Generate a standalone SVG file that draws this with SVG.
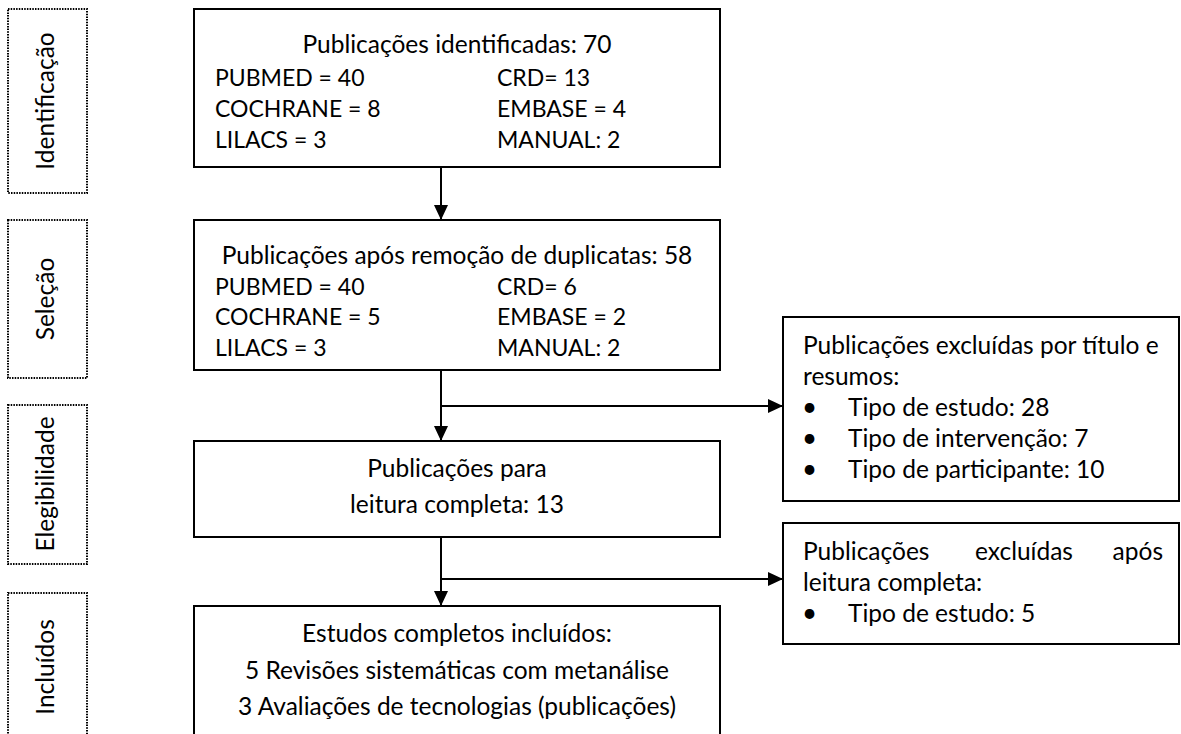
<svg xmlns="http://www.w3.org/2000/svg" width="1181" height="734" viewBox="0 0 1181 734">
  <style>
    text { font-family: "Lato", "Open Sans", "Liberation Sans", sans-serif; font-size: 24.5px; fill: #000; }
    .caps { font-size: 23px; }
    .c { text-anchor: middle; }
    .box { fill: #fff; stroke: #000; stroke-width: 2; }
    .stage { fill: #fff; stroke: #000; stroke-width: 2; stroke-dasharray: 1.5 1.2; }
    .conn { fill: none; stroke: #000; stroke-width: 2; }
    .bul { font-size: 26px; }
  </style>
  <defs>
    <marker id="ah" viewBox="0 0 15 14" refX="15" refY="7" markerWidth="15" markerHeight="14" orient="auto" markerUnits="userSpaceOnUse">
      <path d="M0,0 L15,7 L0,14 z" fill="#000"/>
    </marker>
  </defs>
  <rect width="1181" height="734" fill="#fff"/>

  <!-- stage labels -->
  <g id="stage-identificacao">
    <rect class="stage" x="8" y="9" width="79" height="184"/>
    <text class="c" x="54" y="101" transform="rotate(-90 54 101)">Identificação</text>
  </g>
  <g id="stage-selecao">
    <rect class="stage" x="8" y="220" width="79" height="158"/>
    <text class="c" x="54" y="299" transform="rotate(-90 54 299)">Seleção</text>
  </g>
  <g id="stage-elegibilidade">
    <rect class="stage" x="8" y="405" width="79" height="159"/>
    <text class="c" x="54" y="484" transform="rotate(-90 54 484)">Elegibilidade</text>
  </g>
  <g id="stage-incluidos">
    <rect class="stage" x="8" y="593" width="79" height="160"/>
    <text class="c" x="54" y="667" transform="rotate(-90 54 667)">Incluídos</text>
  </g>

  <!-- connectors -->
  <g id="connectors">
    <line class="conn" x1="441" y1="167" x2="441" y2="220" marker-end="url(#ah)"/>
    <line class="conn" x1="441" y1="370" x2="441" y2="441" marker-end="url(#ah)"/>
    <line class="conn" x1="441" y1="406" x2="783" y2="406" marker-end="url(#ah)"/>
    <line class="conn" x1="441" y1="537" x2="441" y2="606" marker-end="url(#ah)"/>
    <line class="conn" x1="441" y1="579" x2="783" y2="579" marker-end="url(#ah)"/>
  </g>

  <g id="box-identificadas">
    <rect class="box" x="194" y="9" width="526" height="158"/>
    <text class="c" x="457" y="53">Publicações identificadas: 70</text>
    <text class="caps" x="215" y="86">PUBMED = 40</text>
    <text class="caps" x="497" y="86">CRD= 13</text>
    <text class="caps" x="215" y="117">COCHRANE = 8</text>
    <text class="caps" x="497" y="117">EMBASE = 4</text>
    <text class="caps" x="215" y="148">LILACS = 3</text>
    <text class="caps" x="497" y="148">MANUAL: 2</text>
  </g>

  <g id="box-duplicatas">
    <rect class="box" x="194" y="220" width="526" height="150"/>
    <text class="c" x="457" y="264">Publicações após remoção de duplicatas: 58</text>
    <text class="caps" x="215" y="294.5">PUBMED = 40</text>
    <text class="caps" x="497" y="294.5">CRD= 6</text>
    <text class="caps" x="215" y="325">COCHRANE = 5</text>
    <text class="caps" x="497" y="325">EMBASE = 2</text>
    <text class="caps" x="215" y="355.5">LILACS = 3</text>
    <text class="caps" x="497" y="355.5">MANUAL: 2</text>
  </g>

  <g id="box-leitura">
    <rect class="box" x="194" y="441" width="526" height="96"/>
    <text class="c" x="457" y="477">Publicações para</text>
    <text class="c" x="457" y="513">leitura completa: 13</text>
  </g>

  <g id="box-incluidos">
    <rect class="box" x="194" y="606" width="526" height="150"/>
    <text class="c" x="457" y="642">Estudos completos incluídos:</text>
    <text class="c" x="457" y="679">5 Revisões sistemáticas com metanálise</text>
    <text class="c" x="457" y="715">3 Avaliações de tecnologias (publicações)</text>
  </g>

  <g id="box-excluidas-titulo">
    <rect class="box" x="783" y="317" width="396" height="184"/>
    <text x="803" y="354">Publicações excluídas por título e</text>
    <text x="803" y="385">resumos:</text>
    <text class="bul" x="802" y="416">•</text>
    <text x="848" y="416">Tipo de estudo: 28</text>
    <text class="bul" x="802" y="447">•</text>
    <text x="848" y="447">Tipo de intervenção: 7</text>
    <text class="bul" x="802" y="478">•</text>
    <text x="848" y="478">Tipo de participante: 10</text>
  </g>

  <g id="box-excluidas-leitura">
    <rect class="box" x="783" y="523" width="396" height="121"/>
    <text x="803" y="560">Publicações</text>
    <text class="c" x="1024" y="560">excluídas</text>
    <text x="1163" y="560" text-anchor="end">após</text>
    <text x="803" y="591">leitura completa:</text>
    <text class="bul" x="802" y="622">•</text>
    <text x="848" y="622">Tipo de estudo: 5</text>
  </g>
</svg>
